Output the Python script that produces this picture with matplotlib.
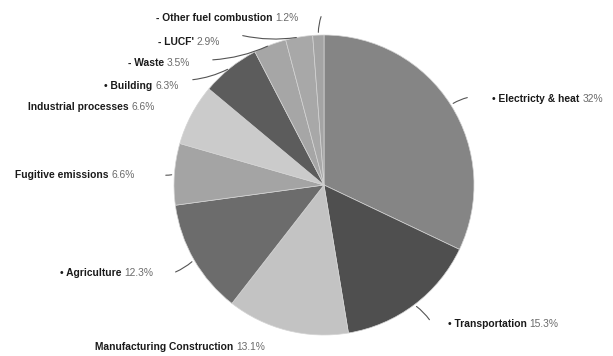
import matplotlib.pyplot as plt
import numpy as np

plt.rcParams['font.family'] = ['Liberation Sans', 'DejaVu Sans']

# Данные: доли выбросов по секторам (%)
sectors = ['Electricty & heat', 'Transportation', 'Manufacturing Construction', 'Agriculture',
           'Fugitive emissions', 'Industrial processes', 'Building', 'Waste', "LUCF'",
           'Other fuel combustion']
shares = [32, 15.3, 13.1, 12.3, 6.6, 6.6, 6.3, 3.5, 2.9, 1.2]

# Оформление (цвета секторов, маркеры подписей)
colors = ['#858585', '#4f4f4f', '#c3c3c3', '#6c6c6c', '#a4a4a4',
          '#cbcbcb', '#5c5c5c', '#a6a6a6', '#a8a8a8', '#a4a4a4']
prefix = ['\u2022 ', '\u2022 ', '', '\u2022 ', '', '', '\u2022 ', '- ', '- ', '- ']
# положение подписей в пикселях (левый край, центр по высоте)
label_px = [(492, 99), (448, 324), (95, 347), (60, 273), (15, 175),
            (28, 107), (104, 86), (128, 63), (158, 42), (156, 18)]
# конец выноски в пикселях (None - без выноски)
leader_px = [(470, 97), (431, 322), None, (173, 273), (163, 175),
             None, (190, 80), (210, 60), (240, 35), (322, 14)]

W, H = 613, 356
cx, cy, r = 324, 185, 150
fs = 7.4

fig = plt.figure(figsize=(W / 100, H / 100), dpi=100)
ax = fig.add_axes([(cx - r) / W, (H - cy - r) / H, 2 * r / W, 2 * r / H])

wedges, _ = ax.pie(shares, colors=colors, startangle=90, counterclock=False, radius=1,
                   wedgeprops=dict(edgecolor='#d4d4d4', linewidth=0.5))
ax.set_xlim(-1, 1)
ax.set_ylim(-1, 1)
ax.axis('off')


def to_data(p):
    return ((p[0] - cx) / r, (cy - p[1]) / r)


for i, w in enumerate(wedges):
    # подпись: название жирным, значение обычным
    t = ax.text(*to_data(label_px[i]), prefix[i] + sectors[i] + ' ', fontsize=fs,
                fontweight='bold', color='#1a1a1a', ha='left', va='center')
    ax.annotate(f'{shares[i]:g}%', xy=(1, 0.5), xycoords=t, fontsize=fs,
                color='#6a6a6a', ha='left', va='center')
    # выноска от середины сектора к подписи
    if leader_px[i] is not None:
        a = np.deg2rad((w.theta1 + w.theta2) / 2)
        ax.annotate('', xy=(np.cos(a), np.sin(a)), xytext=to_data(leader_px[i]),
                    arrowprops=dict(arrowstyle='-', color='#555555', lw=0.8,
                                    connectionstyle='arc3,rad=0.1'))

fig.savefig('out.png', dpi=100, facecolor='white')
